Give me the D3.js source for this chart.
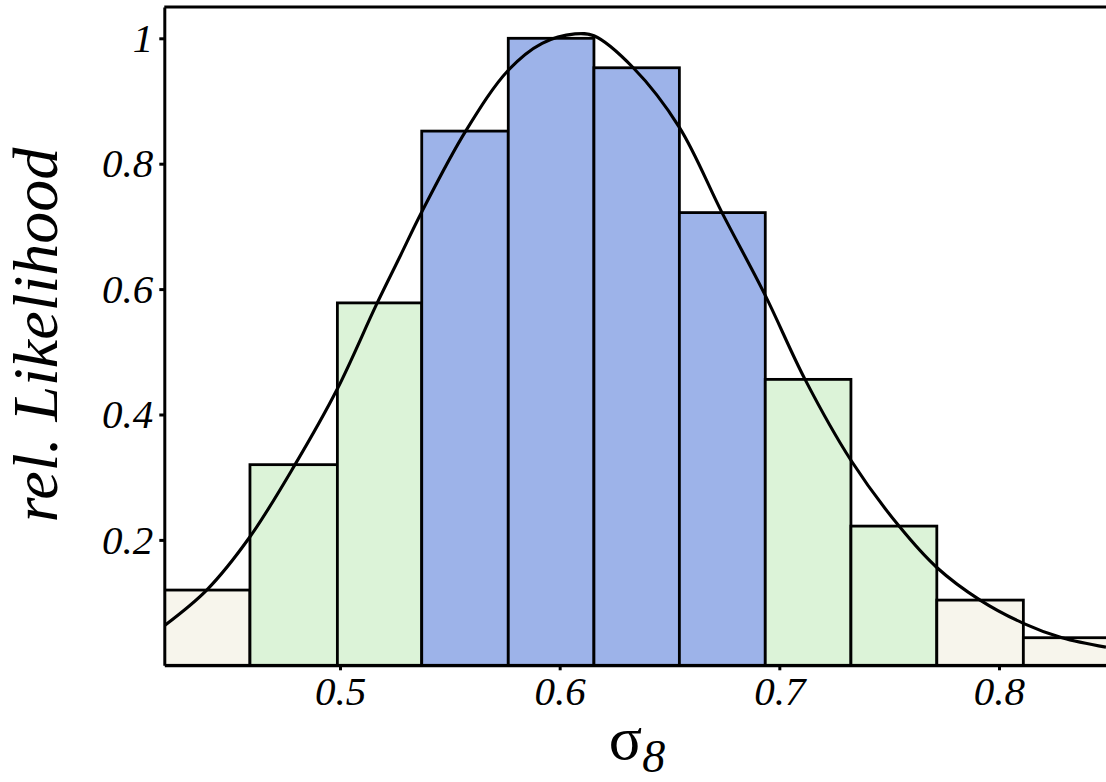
<!DOCTYPE html>
<html>
<head>
<meta charset="utf-8">
<script src="https://cdn.jsdelivr.net/npm/d3@7"></script>
<style>
  body { margin: 0; background: #fff; }
  text { font-family: "Liberation Serif", "DejaVu Serif", serif; }
</style>
</head>
<body>
<svg id="chart" width="1106" height="782"></svg>
<script>
// bin edges of the histogram (sigma_8)
var binEdges = [0.4199, 0.4590, 0.4988, 0.5372, 0.5766, 0.6156, 0.6545, 0.6936, 0.7326, 0.7717, 0.8111, 0.8502];
// relative likelihood of each bin
var binHeights = [0.120, 0.320, 0.578, 0.852, 1.000, 0.953, 0.722, 0.456, 0.222, 0.104, 0.044];
// confidence band of each bin
var binBand = ["outer", "mid", "mid", "core", "core", "core", "core", "mid", "mid", "outer", "outer"];

// smooth fit, points
var curveX = [0.4203, 0.4393, 0.4590, 0.4795, 0.4988, 0.5164, 0.5273, 0.5372, 0.5572, 0.5766, 0.5920, 0.6070, 0.6156, 0.6335, 0.6545, 0.6739, 0.6936, 0.7117, 0.7326, 0.7545, 0.7717, 0.7914, 0.8111, 0.8287, 0.8487];
var curveY = [0.064, 0.120, 0.205, 0.320, 0.441, 0.574, 0.652, 0.723, 0.852, 0.949, 0.992, 1.007, 1.004, 0.953, 0.858, 0.722, 0.590, 0.456, 0.327, 0.222, 0.156, 0.104, 0.067, 0.044, 0.029];

var xTicks = [0.5, 0.6, 0.7, 0.8];
var yTicks = [0.2, 0.4, 0.6, 0.8, 1];

var bandColor = {outer: "#f7f5ec", mid: "#dcf3d8", core: "#9db3e9"};

var svg = d3.select("#chart");

var x = d3.scaleLinear().domain([0.42, 0.85]).range([164.3, 1108.8]);
var y = d3.scaleLinear().domain([0, 1.05]).range([665.3, 6.95]);

svg.append("defs").append("clipPath").attr("id", "plotclip")
  .append("rect")
  .attr("x", x(0.42)).attr("y", y(1.05))
  .attr("width", x(0.85) - x(0.42)).attr("height", y(0) - y(1.05));

var plot = svg.append("g").attr("clip-path", "url(#plotclip)");

// bars
plot.selectAll("rect.bin")
  .data(binHeights)
  .enter()
  .append("rect")
    .attr("class", "bin")
    .attr("x", (d, i) => x(binEdges[i]))
    .attr("width", (d, i) => x(binEdges[i + 1]) - x(binEdges[i]))
    .attr("y", d => y(d))
    .attr("height", d => y(0) - y(d))
    .attr("fill", (d, i) => bandColor[binBand[i]])
    .attr("stroke", "#000")
    .attr("stroke-width", 2.8);

// fitted curve
var pts = curveX.map((v, i) => [v, curveY[i]]);
plot.append("path")
  .datum(pts)
  .attr("fill", "none")
  .attr("stroke", "#000")
  .attr("stroke-width", 3.1)
  .attr("d", d3.line().x(d => x(d[0])).y(d => y(d[1])).curve(d3.curveCatmullRom.alpha(0.5)));

// frame top
svg.append("line")
  .attr("x1", x(0.42)).attr("x2", 1106)
  .attr("y1", y(1.05)).attr("y2", y(1.05))
  .attr("stroke", "#000").attr("stroke-width", 3);

// axes
var xAxis = svg.append("g")
  .attr("transform", "translate(0," + y(0) + ")")
  .call(d3.axisBottom(x).tickValues(xTicks).tickFormat(d3.format("")).tickSize(5).tickSizeOuter(0).tickPadding(6));

var yAxis = svg.append("g")
  .attr("transform", "translate(" + x(0.42) + ",0)")
  .call(d3.axisLeft(y).tickValues(yTicks).tickFormat(d3.format("")).tickSize(5).tickSizeOuter(0).tickPadding(6));

[xAxis, yAxis].forEach(g => {
  g.select(".domain").attr("stroke", "#000").attr("stroke-width", 3);
  g.selectAll(".tick line").attr("stroke", "#000").attr("stroke-width", 3);
  g.selectAll(".tick text")
    .attr("fill", "#000")
    .style("font-family", "'Liberation Serif', serif")
    .style("font-style", "italic")
    .style("font-size", "41px");
});

// axis titles
svg.append("text")
  .attr("transform", "translate(57,335) rotate(-90)")
  .attr("text-anchor", "middle")
  .style("font-style", "italic")
  .style("font-size", "64px")
  .text("rel. Likelihood");

var xt = svg.append("text")
  .attr("x", 637).attr("y", 759)
  .attr("text-anchor", "middle")
  .style("font-size", "62px");
xt.append("tspan").text("σ");
xt.append("tspan")
  .attr("dy", 13)
  .style("font-style", "italic")
  .style("font-size", "46px")
  .text("8");
</script>
</body>
</html>
